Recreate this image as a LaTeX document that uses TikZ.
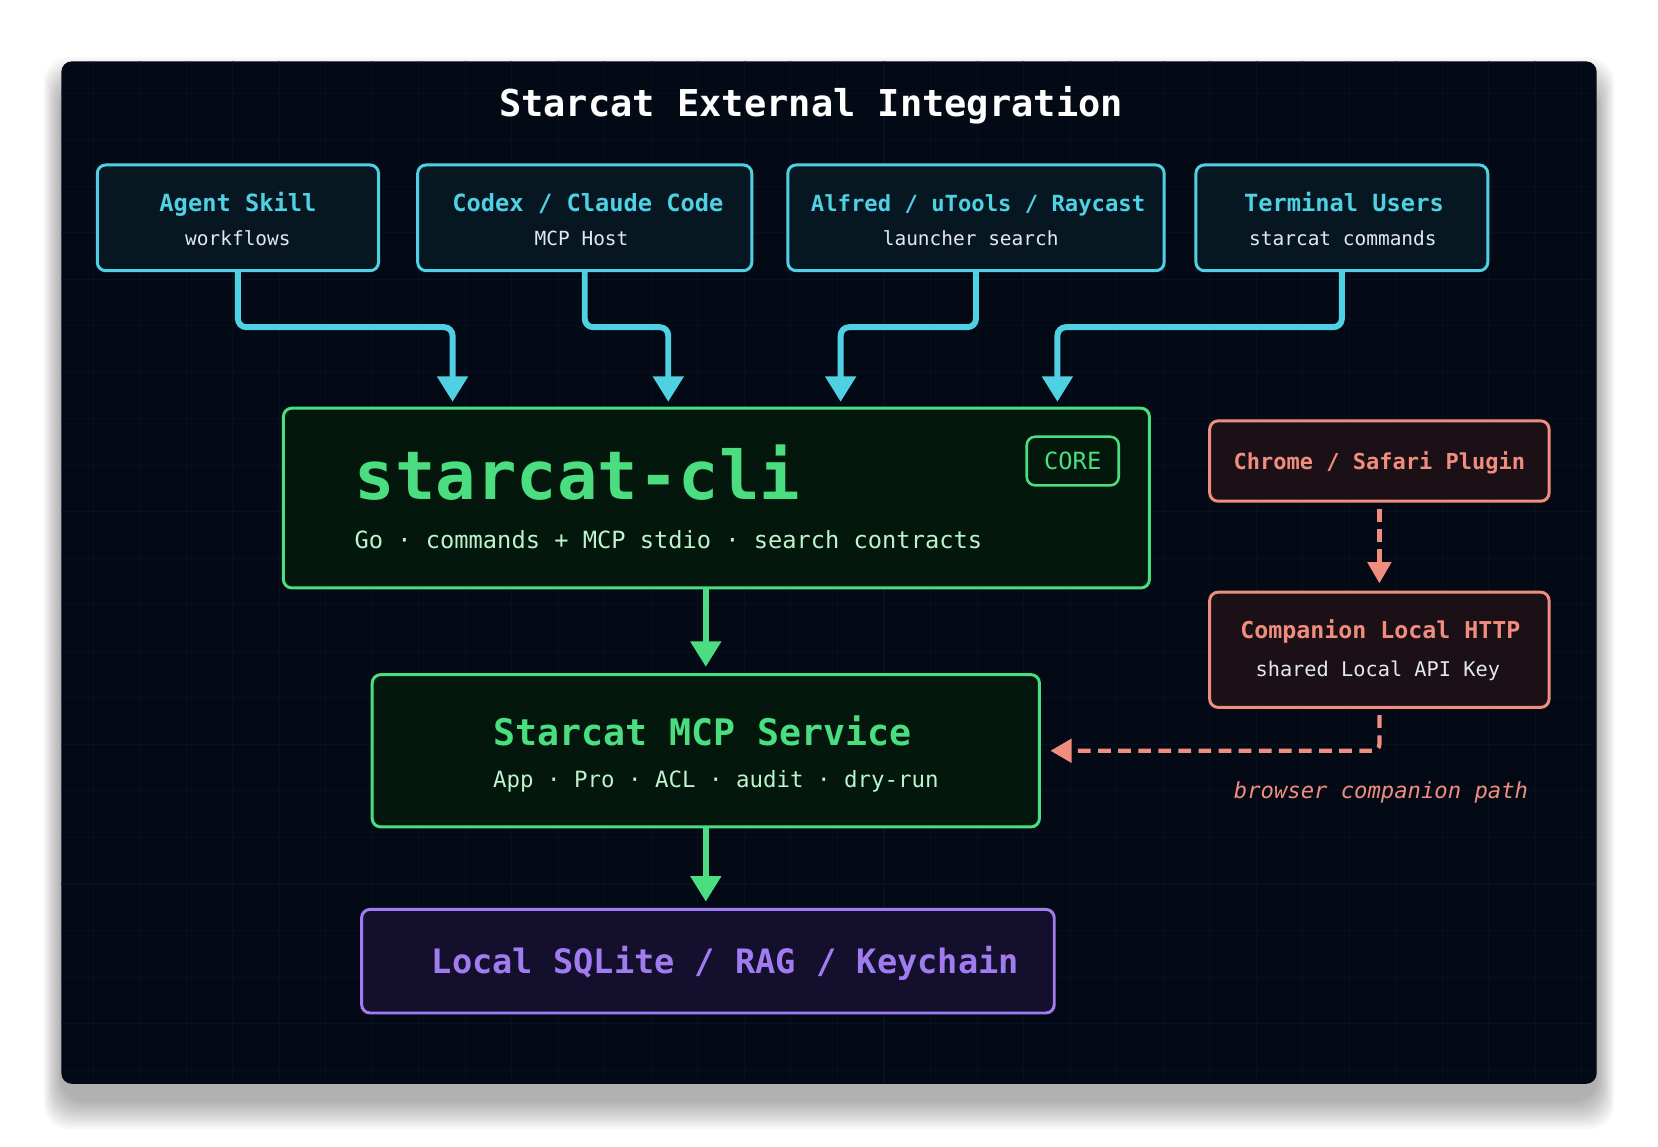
\documentclass[tikz,border=0pt]{standalone}
\usepackage{fontspec}
\setmainfont{DejaVu Sans Mono}
\usetikzlibrary{arrows.meta}

\begin{document}
\begin{tikzpicture}[x=0.5pt,y=-0.5pt,
		panel/.style={fill=panelbg,rounded corners=5pt},
		gridline/.style={draw=gridgray,line width=0.5pt},
		srcbox/.style={draw=skycyan,fill=skyfill,rounded corners=4pt,line width=1.4pt,minimum height=50pt},
		clibox/.style={draw=leafgreen,fill=leaffill,rounded corners=4pt,line width=1.4pt},
		storebox/.style={draw=grape,fill=grapefill,rounded corners=4pt,line width=1.4pt},
		webbox/.style={draw=coral,fill=coralfill,rounded corners=4pt,line width=1.4pt,minimum width=160.5pt},
		srctitle/.style={anchor=base,text=skycyan,inner sep=0pt,font=\bfseries\fontsize{11.2}{13}\selectfont},
		srcsub/.style={anchor=base,text=softwhite,inner sep=0pt,font=\fontsize{9.2}{11}\selectfont},
		feed/.style={draw=skycyan,line width=2.8pt,rounded corners=4pt,shorten >=3pt,-{Triangle[width=14pt,length=12pt]}},
		sink/.style={draw=leafgreen,line width=2.8pt,shorten >=3pt,-{Triangle[width=14pt,length=12pt]}},
		webflow/.style={draw=coral,line width=2pt,dash pattern=on 6pt off 3.5pt,-{Triangle[width=11pt,length=10pt]}}]
		\definecolor{panelbg}{HTML}{040A15}
		\definecolor{gridgray}{HTML}{08101D}
		\definecolor{skycyan}{HTML}{4FD1E3}
		\definecolor{skyfill}{HTML}{071722}
		\definecolor{softwhite}{HTML}{E3E8EE}
		\definecolor{leafgreen}{HTML}{4ADE80}
		\definecolor{leaffill}{HTML}{03170C}
		\definecolor{leaflight}{HTML}{BDF4CE}
		\definecolor{grape}{HTML}{A07CF0}
		\definecolor{grapefill}{HTML}{130F2C}
		\definecolor{coral}{HTML}{F08D7F}
		\definecolor{coralfill}{HTML}{1A1015}
		\useasboundingbox (0,0) rectangle (1568,1084);
		\fill[white] (0,0) rectangle (1568,1084);
		% soft shadow under the panel
		\foreach \r in {2,4,...,28}
			\fill[black,opacity=0.022,rounded corners=12pt] (58-0.6*\r,82-\r) rectangle (1510+0.6*\r,1040+\r);
		% dark panel
		\fill[panel] (58,58) rectangle (1510,1025);
		\begin{scope}
			\clip[rounded corners=5pt] (58,58) rectangle (1510,1025);
			\draw[gridline,step=22pt] (58,58) grid (1510,1025);
		\end{scope}
		\node[anchor=base,text=white,font=\bfseries\fontsize{17.5}{20}\selectfont] (head) at (767,110) {Starcat External Integration};
		% callers
		\node[srcbox,minimum width=133pt] (agent) at (225,206) {};
		\node[srctitle] (agentT) at (225,200) {Agent Skill};
		\node[srcsub] (agentS) at (225,232) {workflows};
		\node[srcbox,minimum width=158pt] (codex) at (553,206) {};
		\node[srctitle] (codexT) at (556,200) {Codex / Claude Code};
		\node[srcsub] (codexS) at (550,232) {MCP Host};
		\node[srcbox,minimum width=178pt] (alfred) at (923,206) {};
		\node[srctitle,font=\bfseries\fontsize{10.5}{12}\selectfont] (alfredT) at (925,200) {Alfred / uTools / Raycast};
		\node[srcsub] (alfredS) at (918,232) {launcher search};
		\node[srcbox,minimum width=138pt] (term) at (1269,206) {};
		\node[srctitle] (termT) at (1271,200) {Terminal Users};
		\node[srcsub] (termS) at (1270,232) {starcat commands};
		% core
		\node[clibox,minimum width=409.5pt,minimum height=85pt] (cli) at (677.5,471) {};
		\node[anchor=base west,inner sep=0pt,text=leafgreen,font=\bfseries\fontsize{31.8}{36}\selectfont] (cliT) at (335,472) {starcat-cli};
		\node[anchor=base west,inner sep=0pt,text=leaflight,font=\fontsize{11.2}{13}\selectfont] (cliS) at (335,519) {Go · commands + MCP stdio · search contracts};
		\node[clibox,line width=1.2pt,minimum width=43.5pt,minimum height=23pt,text=leafgreen,font=\fontsize{11.2}{13}\selectfont] (core) at (1014.5,436) {CORE};
		\node[clibox,minimum width=315.5pt,minimum height=72pt] (mcp) at (667.5,710) {};
		\node[anchor=base west,inner sep=0pt,text=leafgreen,font=\bfseries\fontsize{17.3}{20}\selectfont] (mcpT) at (466,705) {Starcat MCP Service};
		\node[anchor=base west,inner sep=0pt,text=leaflight,font=\fontsize{10.6}{12}\selectfont] (mcpS) at (466,745) {App · Pro · ACL · audit · dry-run};
		\node[storebox,minimum width=327.5pt,minimum height=49pt] (store) at (669.5,909) {};
		\node[anchor=base west,inner sep=0pt,text=grape,font=\bfseries\fontsize{15.9}{18}\selectfont] (storeT) at (408,921) {Local SQLite / RAG / Keychain};
		% browser side
		\node[webbox,minimum height=38pt] (chrome) at (1304.5,436) {};
		\node[anchor=base,inner sep=0pt,text=coral,font=\bfseries\fontsize{10.4}{12}\selectfont] (chromeT) at (1304.5,444) {Chrome / Safari Plugin};
		\node[webbox,minimum height=54.5pt] (comp) at (1304.5,614.5) {};
		\node[anchor=base,inner sep=0pt,text=coral,font=\bfseries\fontsize{11}{13}\selectfont] (compT) at (1305.5,604) {Companion Local HTTP};
		\node[anchor=base,inner sep=0pt,text=softwhite,font=\fontsize{9.6}{11}\selectfont] (compS) at (1303,640) {shared Local API Key};
		\node[anchor=base,inner sep=0pt,text=coral,font=\itshape\fontsize{10.5}{12}\selectfont] (pathT) at (1306,755) {browser companion path};
		% connectors
		\coordinate (in1) at (428,386);
		\coordinate (in2) at (632,386);
		\coordinate (in3) at (795,386);
		\coordinate (in4) at (1000,386);
		\draw[feed] (agent.south) -- ++(0,52) -| (in1);
		\draw[feed] (codex.south) -- ++(0,52) -| (in2);
		\draw[feed] (alfred.south) -- ++(0,52) -| (in3);
		\draw[feed] (term.south) -- ++(0,52) -| (in4);
		\draw[sink] (cli.south -| mcp.north) -- (mcp.north);
		\draw[sink] (mcp.south) -- (mcp.south |- store.north);
		\draw[webflow,shorten <=3pt,shorten >=3.5pt] (chrome.south) -- (comp.north);
		\draw[webflow,rounded corners=3pt,shorten <=3pt,shorten >=4.5pt] (comp.south) |- (mcp.east);
	\end{tikzpicture}
\end{document}
